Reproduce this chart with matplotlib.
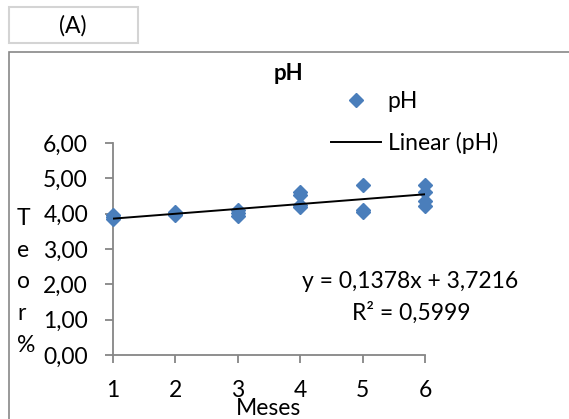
import matplotlib
matplotlib.use("Agg")
import matplotlib.pyplot as plt
from matplotlib.lines import Line2D
from matplotlib.patches import Rectangle
import numpy as np

# ---- data ----
meses_x = [1, 1, 1, 2, 2, 2, 3, 3, 3, 4, 4, 4, 4, 5, 5, 5, 6, 6, 6, 6]
ph_vals = [3.95, 3.85, 3.90, 4.05, 3.95, 4.00, 4.10, 4.02, 3.92,
           4.60, 4.52, 4.25, 4.20, 4.82, 4.10, 4.05, 4.80, 4.60, 4.35, 4.22]
slope = 0.1378
intercept = 3.7216
r2 = 0.5999
x_ticks = [1, 2, 3, 4, 5, 6]
y_ticks = [0, 1, 2, 3, 4, 5, 6]
y_ticklabels = ["0,00", "1,00", "2,00", "3,00", "4,00", "5,00", "6,00"]

W, H = 569, 419
FONT = "Lato"
FS = 16.5
plt.rcParams['font.family'] = [FONT, 'DejaVu Sans']

fig = plt.figure(figsize=(W / 100, H / 100), dpi=100)

def fx(px):
    return px / W

def fy(py):
    return 1 - py / H

# chart outer border (extends beyond the image on right/bottom)
fig.add_artist(Rectangle((fx(9), fy(430)), fx(600) - fx(9), fy(52) - fy(430),
                         transform=fig.transFigure, fill=False,
                         edgecolor="#878787", lw=1.2))
# (A) box
fig.add_artist(Rectangle((fx(9), fy(43)), fx(138) - fx(9), fy(7) - fy(43),
                         transform=fig.transFigure, fill=False,
                         edgecolor="#D4D4D4", lw=1.5))
fig.text(fx(73), fy(26), "(A)", ha="center", va="center", fontsize=FS, color="black")

ax = fig.add_axes([fx(113), fy(355), fx(425) - fx(113), fy(143) - fy(355)])
ax.set_xlim(1, 6)
ax.set_ylim(0, 6)
for s in ["top", "right"]:
    ax.spines[s].set_visible(False)
for s in ["left", "bottom"]:
    ax.spines[s].set_color("#868686")
    ax.spines[s].set_linewidth(1.3)
    ax.spines[s].set_zorder(1)

ax.set_xticks(x_ticks)
ax.set_xticklabels([str(v) for v in x_ticks])
ax.set_yticks(y_ticks)
ax.set_yticklabels(y_ticklabels)
ax.tick_params(axis="both", direction="out", length=6, width=1.3, color="#868686",
               labelsize=FS, pad=12)

ax.plot(meses_x, ph_vals, linestyle="none", marker="D", markersize=7,
        color="#4A7EBB", markeredgecolor="#4A7EBB", zorder=3, clip_on=False,
        label="pH")
xs = np.array([min(x_ticks), max(x_ticks)])
ax.plot(xs, slope * xs + intercept, color="black", lw=1.4, zorder=4,
        label="Linear (pH)")

fig.text(fx(288), fy(74), "pH", ha="center", va="center", fontsize=FS - 0.5,
         fontweight="bold")

handles = [Line2D([], [], linestyle="none", marker="D", markersize=7,
                  color="#4A7EBB"),
           Line2D([], [], color="black", lw=1.4)]
fig.legend(handles, ["pH", "Linear (pH)"], loc="upper left",
           bbox_to_anchor=(fx(331), fy(91)), bbox_transform=fig.transFigure,
           frameon=False, fontsize=FS, handlelength=2.2, handletextpad=0.28,
           labelspacing=0.88, borderpad=0, borderaxespad=0)

eq = "y = {:.4f}x + {:.4f}".format(slope, intercept).replace(".", ",")
r2t = "R² = {:.4f}".format(r2).replace(".", ",")
fig.text(fx(410), fy(282), eq, ha="center", va="center", fontsize=FS)
fig.text(fx(411), fy(313), r2t, ha="center", va="center", fontsize=FS)

fig.text(fx(269), fy(408), "Meses", ha="center", va="center", fontsize=FS)

fig.text(fx(17), fy(282), "T\ne\no\nr\n%", ha="left", va="center",
         fontsize=FS, linespacing=1.62)

fig.savefig("out.png", dpi=100)
